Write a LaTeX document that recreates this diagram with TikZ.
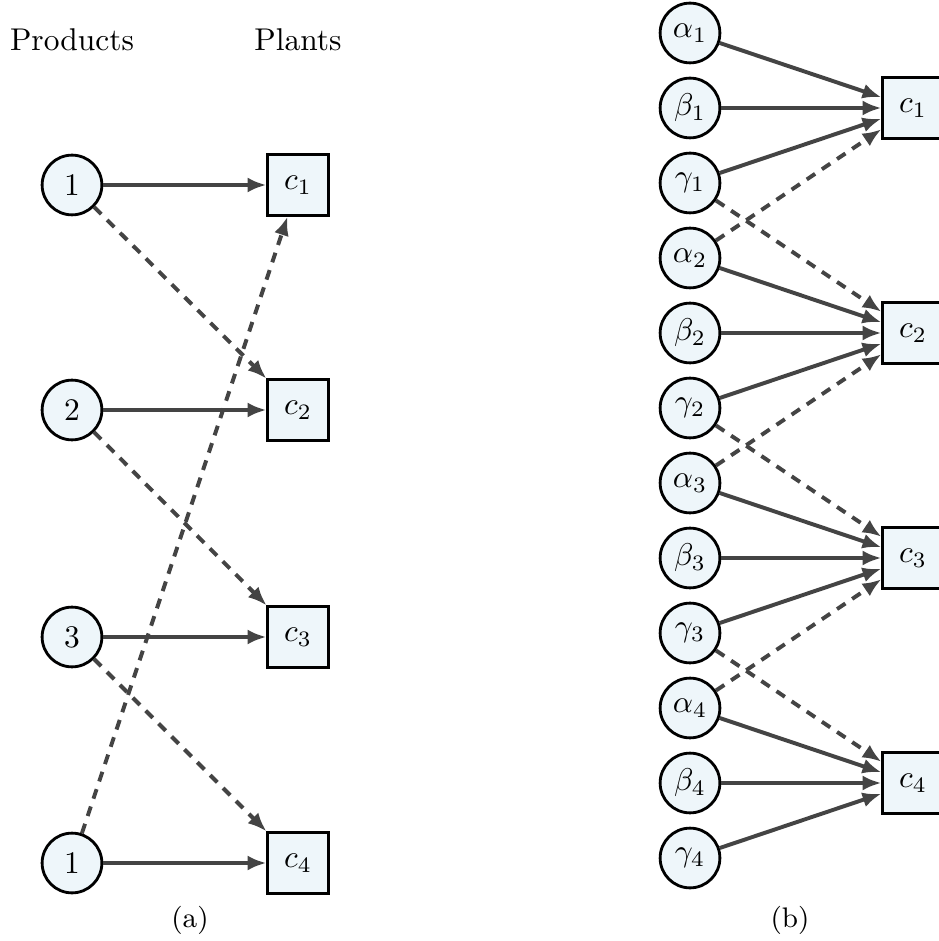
\documentclass[tikz,border=0pt]{standalone}
\usetikzlibrary{arrows.meta}
\definecolor{nodefill}{HTML}{EEF6FA}
\definecolor{edgegray}{HTML}{444444}
\tikzset{
  prod/.style={circle, draw=black, line width=0.9pt, fill=nodefill, minimum size=19pt, inner sep=0pt},
  plant/.style={rectangle, draw=black, line width=0.9pt, fill=nodefill, minimum size=19.2pt, inner sep=0pt},
  link/.style={draw=edgegray, line width=1.25pt, -{Latex[length=6pt,width=4.8pt]}},
  crosslink/.style={link, dash pattern=on 3.2pt off 2.6pt},
}
\begin{document}
\begin{tikzpicture}[x=0.318pt,y=-0.318pt]
\useasboundingbox (0,0) rectangle (938,941);
% ---- (a) products and plants ----
\node (hp) at (72,40) {Products};
\node (hl) at (298,40) {Plants};
\foreach \i/\y/\t in {1/185/1,2/410/2,3/637/3,4/863/1}{
  \node[prod] (p\i) at (72,\y) {$\t$};
  \node[plant] (c\i) at (298,\y) {$c_{\i}$};
}
\foreach \i in {1,...,4}{ \draw[link] (p\i) -- (c\i); }
\draw[crosslink] (p1) -- (c2);
\draw[crosslink] (p2) -- (c3);
\draw[crosslink] (p3) -- (c4);
\draw[crosslink] (p4) -- (c1);
\node (capa) at (190,920) {\small (a)};
% ---- (b) decomposed products ----
\foreach \i in {1,...,4}{
  \pgfmathsetmacro{\yb}{33+225*(\i-1)}
  \node[prod] (a\i) at (690,\yb) {$\alpha_{\i}$};
  \node[prod] (b\i) at (690,\yb+75) {$\beta_{\i}$};
  \node[prod] (g\i) at (690,\yb+150) {$\gamma_{\i}$};
  \node[plant] (d\i) at (913,\yb+75) {$c_{\i}$};
  \draw[link] (a\i) -- (d\i);
  \draw[link] (b\i) -- (d\i);
  \draw[link] (g\i) -- (d\i);
}
\foreach \i/\j in {1/2,2/3,3/4}{
  \draw[crosslink] (g\i) -- (d\j);
  \draw[crosslink] (a\j) -- (d\i);
}
\node (capb) at (790,920) {\small (b)};
\end{tikzpicture}
\end{document}
